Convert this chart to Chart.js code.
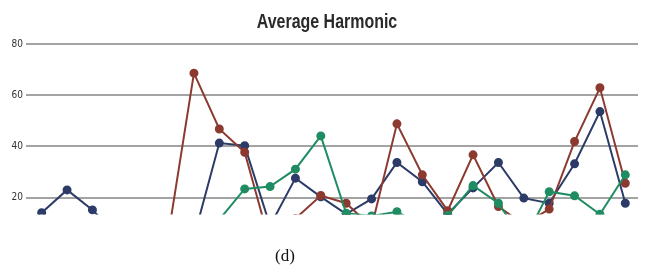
<!DOCTYPE html>
<html>
<head>
<meta charset="utf-8">
<script src="https://cdn.jsdelivr.net/npm/chart.js@4/dist/chart.umd.min.js"></script>
<style>
  html, body { margin: 0; padding: 0; background: #fff; }
  .wrap { position: relative; width: 647px; height: 272px; }
  .title {
    position: absolute; left: 7px; top: 8px; width: 640px;
    text-align: center; font: bold 21px/25px "Liberation Sans", sans-serif; color: #2a2a2a;
    transform: scaleX(0.76); transform-origin: 320px 0;
  }
  .caption {
    position: absolute; left: 0; top: 246px; width: 570px;
    text-align: center; font: 17px "Liberation Serif", serif; color: #111;
  }
</style>
</head>
<body>
<div class="wrap">
  <canvas id="chart" width="647" height="272"></canvas>
  <div class="title">Average Harmonic</div>
  <div class="caption">(d)</div>
</div>
<script>
const labels = Array.from({ length: 24 }, (_, i) => String(i + 1))
const yTicks = [20, 40, 60, 80]

// values under ~13 are cut off in the picture, those are rough guesses
const blueValues = [14.1, 23.0, 15.2, 5, 4, 3, 4.6, 41.3, 40.3, 9, 27.6, 20.3, 13.6, 19.5, 33.7, 26.2, 13.6, 23.8, 33.7, 19.8, 17.8, 33.2, 53.6, 17.8]
const redValues = [null, null, null, null, null, 6, 68.6, 46.8, 37.7, 2, 11.8, 20.8, 17.8, 8.5, 48.8, 28.9, 14.9, 36.7, 16.5, 9.5, 15.5, 41.9, 62.9, 25.6]
const greenValues = [null, null, null, null, null, null, null, 11.4, 23.4, 24.3, 31.1, 44.1, 13.9, 12.8, 14.5, 9, 13, 24.7, 17.8, 3, 22.3, 20.7, 13.5, 28.9]

const line = (data, color) => ({
  data,
  borderColor: color,
  backgroundColor: color,
  borderWidth: 2,
  pointRadius: 3.5,
  pointHoverRadius: 3.5,
  tension: 0
})

new Chart(document.getElementById('chart').getContext('2d'), {
  type: 'line',
  data: {
    labels,
    datasets: [
      line(greenValues, '#1f8c62'),
      line(redValues, '#8c3a30'),
      line(blueValues, '#2c3b67')
    ]
  },
  options: {
    responsive: false,
    animation: false,
    layout: { padding: { left: 0, right: 9, top: 44, bottom: 57.5 } },
    plugins: {
      legend: { display: false },
      tooltip: { enabled: false }
    },
    scales: {
      x: {
        display: false,
        offset: true
      },
      y: {
        min: 13.4,
        max: 80,
        border: { display: false },
        grid: { color: '#a3a3a3', lineWidth: 2, tickLength: 3 },
        ticks: {
          color: '#333',
          padding: 3,
          font: { family: '"Liberation Sans Narrow", "DejaVu Sans Condensed", sans-serif', size: 10 }
        },
        afterBuildTicks: axis => { axis.ticks = yTicks.map(v => ({ value: v })) },
        afterFit: axis => { axis.width = 29 }
      }
    }
  }
})
</script>
</body>
</html>
